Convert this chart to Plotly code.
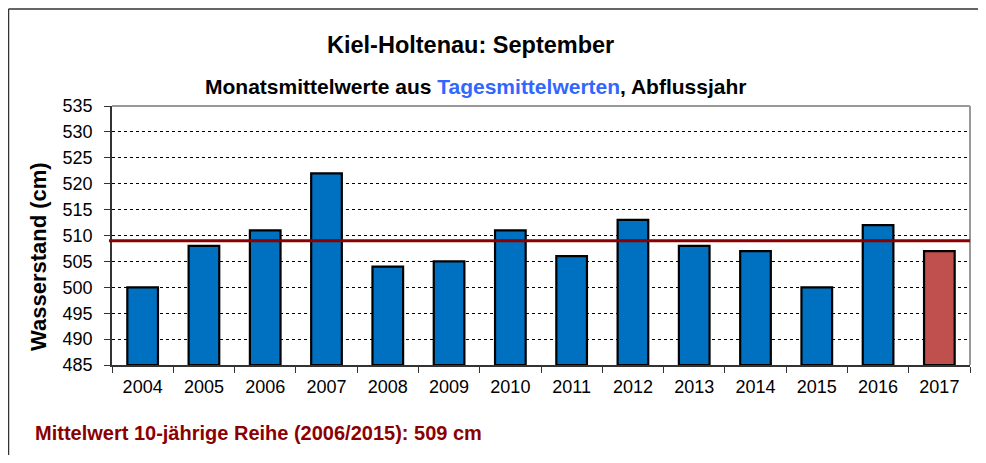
import plotly.graph_objects as go

years = ["2004", "2005", "2006", "2007", "2008", "2009", "2010",
         "2011", "2012", "2013", "2014", "2015", "2016", "2017"]
values = [500, 508, 511, 522, 504, 505, 511, 506, 513, 508, 507, 500, 512, 507]
mean_10y = 509
y_min, y_max = 485, 535
y_ticks = list(range(y_min, y_max + 5, 5))

bar_colors = ["#0070C0"] * (len(years) - 1) + ["#C0504D"]

FONT = "Arial, 'Liberation Sans', sans-serif"

# page body has an 8px margin; work in screen pixels and convert
OFF = 8
SW, SH = 986, 463
W, H = SW - 2 * OFF, SH - 2 * OFF
# plot area in screen pixels
PX0, PX1, PY0, PY1 = 112, 970, 106, 365
L, R = PX0 - OFF, W - (PX1 - OFF)
T, B = PY0 - OFF, H - (PY1 - OFF)
pw, ph = PX1 - PX0, PY1 - PY0


def px(x):
    return (x - PX0) / pw


def py(y):
    return (PY1 - y) / ph


fig = go.Figure()
fig.add_trace(go.Bar(
    x=years, y=[v - y_min for v in values], base=y_min,
    marker=dict(color=bar_colors, line=dict(color="#000000", width=2.2)),
    hoverinfo="skip",
))

fig.update_layout(
    width=W, height=H,
    margin=dict(l=L, r=R, t=T, b=B, pad=0),
    paper_bgcolor="white", plot_bgcolor="white",
    showlegend=False,
    bargap=0.5,
    font=dict(family=FONT, color="#000000"),
    xaxis=dict(
        type="category", showline=True, linecolor="#333333", linewidth=1.5,
        ticks="outside", tickson="boundaries", ticklen=6, tickcolor="#333333",
        tickfont=dict(size=18), showgrid=False, ticklabelstandoff=5,
    ),
    yaxis=dict(
        range=[y_min, y_max], tickvals=y_ticks, showline=True, linecolor="#333333",
        linewidth=1.5, ticks="outside", ticklen=6, tickcolor="#333333",
        tickfont=dict(size=18), showgrid=True, gridcolor="#000000",
        gridwidth=1, griddash="dot", zeroline=False, ticklabelstandoff=8,
    ),
    shapes=[
        dict(type="line", xref="paper", yref="paper", x0=0, x1=1, y0=1, y1=1,
             line=dict(color="#999999", width=2)),
        dict(type="line", xref="paper", yref="paper", x0=1, x1=1, y0=0, y1=1,
             line=dict(color="#999999", width=2)),
        dict(type="line", xref="paper", yref="y", x0=px(109), x1=1,
             y0=mean_10y, y1=mean_10y, line=dict(color="#8B0000", width=3)),
        dict(type="line", xref="paper", yref="paper", x0=px(8.5), x1=px(990),
             y0=py(9), y1=py(9), line=dict(color="#333333", width=1.5)),
        dict(type="line", xref="paper", yref="paper", x0=px(8.5), x1=px(8.5),
             y0=py(9), y1=py(470), line=dict(color="#333333", width=1.5)),
    ],
    annotations=[
        dict(text="<b>Kiel-Holtenau: September</b>", xref="paper", yref="paper",
             x=px(470), y=py(45), xanchor="center", yanchor="middle",
             showarrow=False, font=dict(size=23.5)),
        dict(text="<b>Monatsmittelwerte aus <span style='color:#3366FF'>Tagesmittelwerten</span>, Abflussjahr</b>",
             xref="paper", yref="paper", x=px(475), y=py(87),
             xanchor="center", yanchor="middle", showarrow=False,
             font=dict(size=21)),
        dict(text="<b>Wasserstand (cm)</b>", xref="paper", yref="paper",
             x=px(38), y=py(257), xanchor="center", yanchor="middle",
             showarrow=False, textangle=-90, font=dict(size=22)),
        dict(text="<b>Mittelwert 10-jährige Reihe (2006/2015): 509 cm</b>",
             xref="paper", yref="paper", x=px(33), y=py(433), xanchor="left",
             yanchor="middle", showarrow=False,
             font=dict(size=20, color="#8B0000")),
    ],
)

fig.write_html("out.html")
